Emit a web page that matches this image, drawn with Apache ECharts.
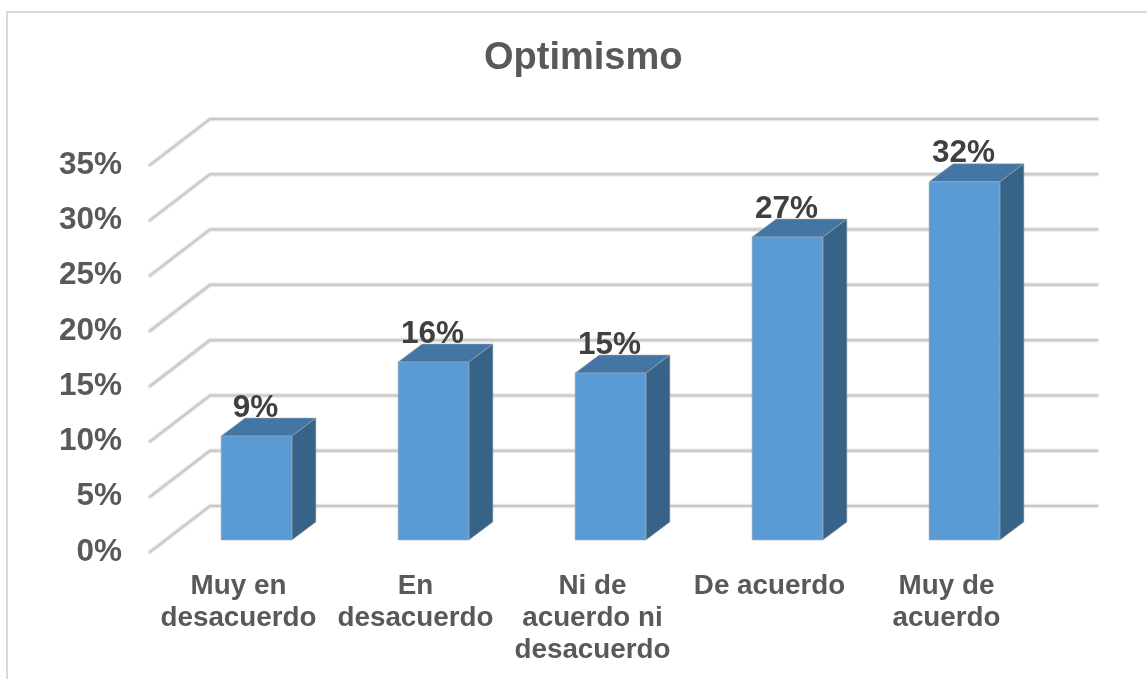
<!DOCTYPE html>
<html>
<head>
<meta charset="utf-8">
<title>Optimismo</title>
<script src="https://cdn.jsdelivr.net/npm/echarts@6/dist/echarts.min.js"></script>
<style>
	html, body { margin: 0; padding: 0; background: #fff; }
	#chart { width: 1147px; height: 679px; }
</style>
</head>
<body>
<div id="chart"></div>
<script>
const categories = ['Muy en\ndesacuerdo', 'En\ndesacuerdo', 'Ni de\nacuerdo ni\ndesacuerdo', 'De acuerdo', 'Muy de\nacuerdo'];
const values = [9.4, 16.1, 15.1, 27.4, 32.4];
const yTicks = [0, 5, 10, 15, 20, 25, 30, 35];

const fontFamily = '"Liberation Sans", Arial, sans-serif';

// fake 3D: how far the back wall and the bars sit from the front plane
const WALL_DX = 60;
const WALL_DY = 46;
const WALL_EXTRA = 2;
const BAR_SHIFT_X = 18;
const BAR_SHIFT_Y = 12;
const BAR_DX = 24;
const BAR_DY = 18;

const renderWall = (params, api) => {
	const cs = params.coordSys;
	const y = api.coord([0, api.value(1)])[1];
	const points = [
		[cs.x, y],
		[cs.x + WALL_DX, y - WALL_DY],
		[cs.x + cs.width + WALL_DX + WALL_EXTRA, y - WALL_DY],
	];
	return {
		type: 'group',
		children: [
			{ type: 'polyline', shape: { points }, style: { fill: 'none', stroke: '#e6e6e6', lineWidth: 4.5, lineCap: 'round', lineJoin: 'round' } },
			{ type: 'polyline', shape: { points }, style: { fill: 'none', stroke: '#c8c8c8', lineWidth: 2, lineCap: 'round', lineJoin: 'round' } },
		],
	};
};

const renderBar = (params, api) => {
	const top = api.coord([api.value(0), api.value(1)]);
	const base = api.coord([api.value(0), 0]);
	const w = api.size([1, 0])[0] * 0.4;
	const x0 = top[0] - w / 2 + BAR_SHIFT_X;
	const x1 = x0 + w;
	const y0 = top[1] - BAR_SHIFT_Y;
	const y1 = base[1] - BAR_SHIFT_Y;
	const halo = { stroke: 'rgba(170,170,170,0.55)', lineWidth: 1, lineJoin: 'round' };
	return {
		type: 'group',
		children: [
			{ type: 'polygon', shape: { points: [[x0, y0], [x0 + BAR_DX, y0 - BAR_DY], [x1 + BAR_DX, y0 - BAR_DY], [x1, y0]] }, style: { fill: '#4476a5', ...halo } },
			{ type: 'polygon', shape: { points: [[x1, y0], [x1 + BAR_DX, y0 - BAR_DY], [x1 + BAR_DX, y1 - BAR_DY], [x1, y1]] }, style: { fill: '#376389', ...halo } },
			{ type: 'rect', shape: { x: x0, y: y0, width: w, height: y1 - y0 }, style: { fill: '#5b9bd5', ...halo } },
			{
				type: 'text',
				style: {
					x: (x0 + x1) / 2 - 1,
					y: y0 - 28,
					text: Math.round(api.value(1)) + '%',
					align: 'center',
					verticalAlign: 'middle',
					fill: '#404040',
					font: 'bold 31.5px ' + fontFamily,
				},
			},
		],
	};
};

const chart = echarts.init(document.getElementById('chart'));
chart.setOption({
	animation: false,
	backgroundColor: '#fff',
	title: {
		text: 'Optimismo',
		left: 479,
		top: 35,
		textStyle: { color: '#595959', fontSize: 38, fontWeight: 'bold', fontFamily },
	},
	graphic: [{
		type: 'polyline',
		shape: { points: [[7, 679], [7, 12], [1147, 12]] },
		style: { fill: 'none', stroke: '#d9d9d9', lineWidth: 2 },
	}],
	grid: { left: 150, width: 885, top: 165, height: 387 },
	xAxis: {
		type: 'category',
		data: categories,
		axisLine: { show: false },
		axisTick: { show: false },
		axisLabel: { color: '#595959', fontSize: 27.8, fontWeight: 'bold', fontFamily, lineHeight: 32, margin: 18, interval: 0 },
	},
	yAxis: {
		type: 'value',
		min: 0,
		max: 35,
		interval: 5,
		axisLine: { show: false },
		axisTick: { show: false },
		splitLine: { show: false },
		axisLabel: { color: '#595959', fontSize: 31.5, fontWeight: 'bold', fontFamily, margin: 28, padding: [4, 0, 0, 0], formatter: '{value}%' },
	},
	series: [
		{
			name: 'wall',
			type: 'custom',
			renderItem: renderWall,
			data: yTicks.map(v => [0, v]),
			encode: { x: 0, y: 1 },
			clip: false,
			silent: true,
			z: 1,
		},
		{
			name: 'Optimismo',
			type: 'custom',
			renderItem: renderBar,
			data: values.map((v, i) => [i, v]),
			encode: { x: 0, y: 1 },
			clip: false,
			z: 2,
		},
	],
});
</script>
</body>
</html>
